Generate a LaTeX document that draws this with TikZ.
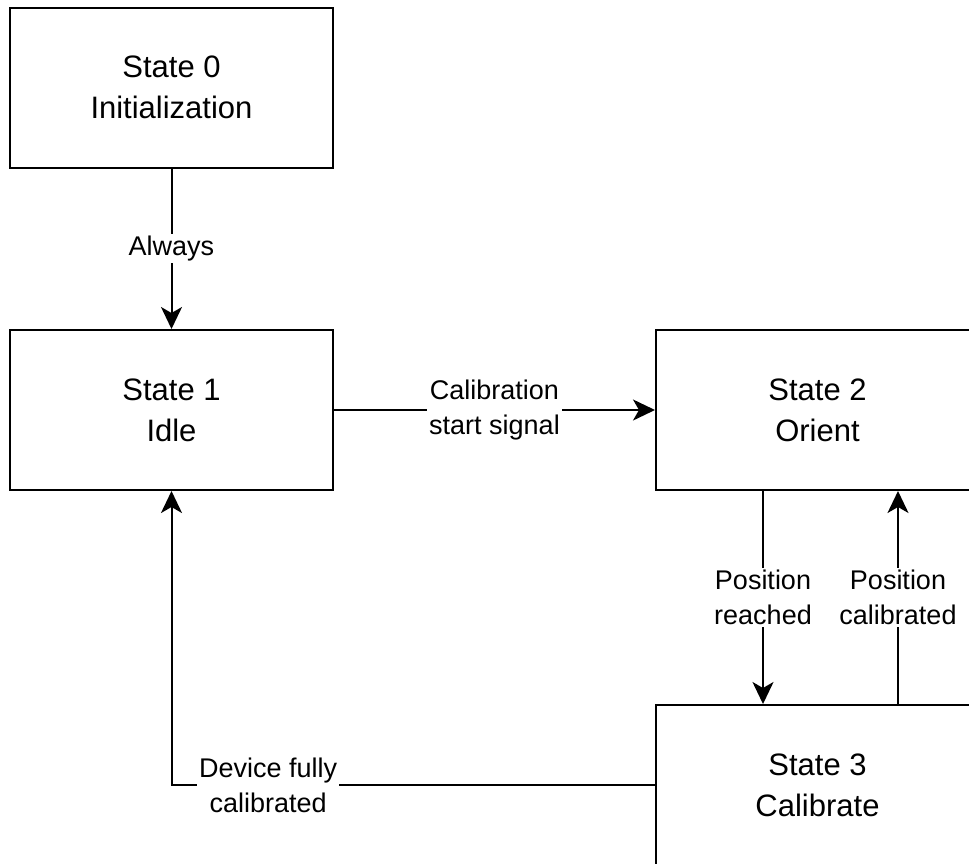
\documentclass[tikz,border=0pt]{standalone}
\usepackage{fontspec}
\setmainfont{Liberation Sans}
\usetikzlibrary{arrows.meta}
\begin{document}
\begin{tikzpicture}[x=1pt,y=-1pt,
  statebox/.style={draw, line width=2pt, rectangle, minimum width=323pt, minimum height=160pt,
    align=center, font=\fontsize{31}{41}\selectfont, inner sep=0pt},
  arr/.style={line width=2pt, -{Stealth[length=22pt,width=21pt,inset=6pt]}},
  lbl/.style={fill=white, align=center, inner sep=2pt, font=\fontsize{27}{35}\selectfont}]
  \useasboundingbox (0,0) rectangle (969,863);
  \clip (0,0) rectangle (969,863);
  % states
  \node[statebox] (s0) at (171.5,87.5) {State 0\\Initialization};
  \node[statebox] (s1) at (171.5,410) {State 1\\Idle};
  \node[statebox] (s2) at (817.5,410) {State 2\\Orient};
  \node[statebox] (s3) at (817.5,785) {State 3\\Calibrate};
  % transitions
  \draw[arr] (s0) -- node[lbl] {Always} (s1);
  \draw[arr] (s1) -- node[lbl] {Calibration\\start signal} (s2);
  \draw[arr] ([xshift=-54.5pt]s2.south) -- node[lbl] {Position\\reached} ([xshift=-54.5pt]s3.north);
  \draw[arr] ([xshift=80.5pt]s3.north) -- node[lbl] {Position\\calibrated} ([xshift=80.5pt]s2.south);
  \draw[arr] (s3.west) -| node[lbl, pos=0.4] {Device fully\\calibrated} (s1.south);
\end{tikzpicture}
\end{document}
